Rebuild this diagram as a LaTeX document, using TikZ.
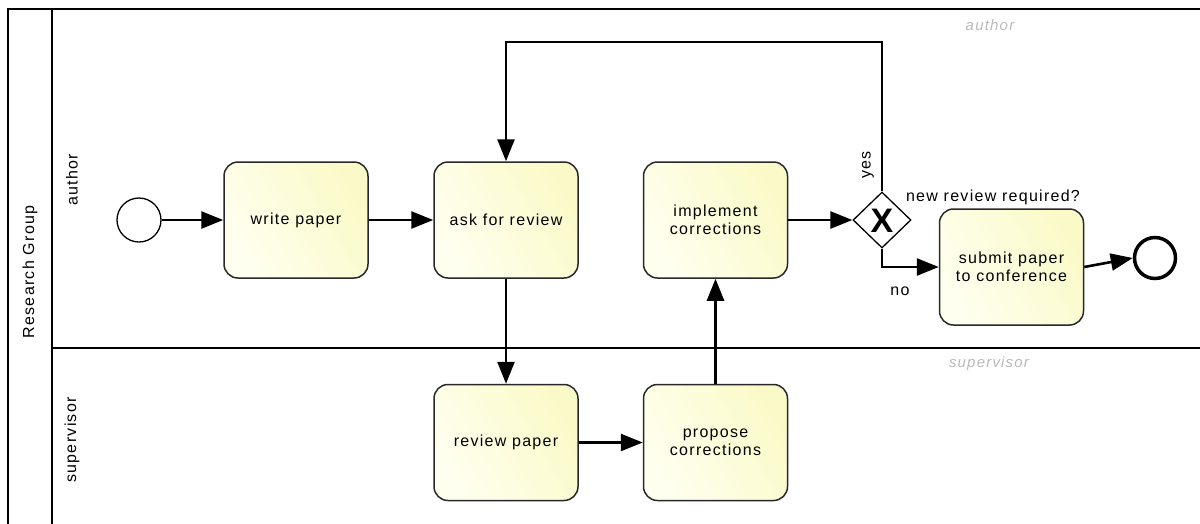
\documentclass[tikz,border=0pt]{standalone}
\usepackage{fontspec}
\setmainfont{Liberation Sans}[LetterSpace=8]
\usetikzlibrary{arrows.meta,shapes.geometric}

\definecolor{taskedge}{RGB}{40,40,40}
\definecolor{taskfillA}{RGB}{255,255,240}
\definecolor{taskfillB}{RGB}{250,250,200}
\definecolor{lanenote}{RGB}{185,185,185}

\tikzset{
  every node/.style={font=\fontsize{16}{18}\selectfont},
  task/.style={draw=taskedge, line width=1.5pt, rounded corners=14pt,
    minimum width=144pt, minimum height=116pt, inner sep=0pt,
    align=center, left color=taskfillA, right color=taskfillB, shading angle=120},
  startev/.style={circle, draw=black, line width=1.3pt, fill=white,
    minimum size=44pt, inner sep=0pt},
  endev/.style={circle, draw=black, line width=3.5pt, fill=white,
    minimum size=41pt, inner sep=0pt},
  gateway/.style={diamond, draw=black, line width=1.3pt, fill=white,
    minimum width=58pt, minimum height=56pt, inner sep=0pt, aspect=1},
  flow/.style={line width=2.6pt, draw=black,
    -{Triangle[length=22pt,width=17pt]}},
  poolline/.style={line width=2pt, draw=black},
  laneline/.style={line width=1.6pt, draw=black},
  lanelabel/.style={rotate=90, anchor=center},
  lanenote/.style={text=lanenote, font=\fontsize{15}{18}\selectfont\itshape},
}

\begin{document}
\begin{tikzpicture}[x=1pt, y=-1pt]
  \useasboundingbox (0,0) rectangle (1200,523);

  % pool and lanes
  \draw[poolline] (1205,9) -- (8,9) -- (8,530);
  \draw[poolline] (52,9) -- (52,530);
  \draw[laneline] (52,348) -- (1205,348);

  \node[lanelabel] (pool) at (30,272) {Research Group};
  \node[lanelabel] (laneA) at (72,180) {author};
  \node[lanelabel] (laneS) at (72,440) {supervisor};
  \node[lanenote] (noteA) at (990,25) {author};
  \node[lanenote] (noteS) at (989,364) {supervisor};

  % flow objects
  \node[startev] (start) at (139,220) {};
  \node[task] (write) at (296,220) {write paper};
  \node[task] (ask) at (506,220) {ask for review};
  \node[task] (impl) at (715.5,220) {implement\\corrections};
  \node[task] (rev) at (506,442.5) {review paper};
  \node[task] (prop) at (715.5,442.5) {propose\\corrections};
  \node[gateway] (gw) at (882,220) {};
  \node[font=\fontsize{34}{34}\selectfont\bfseries, inner sep=0pt] (gwx) at (882,221) {X};
  \node[task] (submit) at (1011.5,267) {submit paper\\to conference};
  \node[endev] (end) at (1155,258) {};

  % sequence flows
  \draw[flow] (start) -- (write);
  \draw[flow] (write) -- (ask);
  \draw[flow] (ask) -- (rev);
  \draw[flow] (rev) -- (prop);
  \draw[flow] (prop) -- (impl);
  \draw[flow] (impl) -- (gw.west);
  \draw[flow] (gw.north) -- (882,42) -| (ask.north);
  \draw[flow] (gw.south) |- (submit.west);
  \draw[flow] (submit.east) -- (end.west);

  % gateway labels
  \node[rotate=90] (yeslbl) at (868,165) {yes};
  \node (nolbl) at (900,291) {no};
  \node (question) at (993,197) {new review required?};
\end{tikzpicture}
\end{document}
